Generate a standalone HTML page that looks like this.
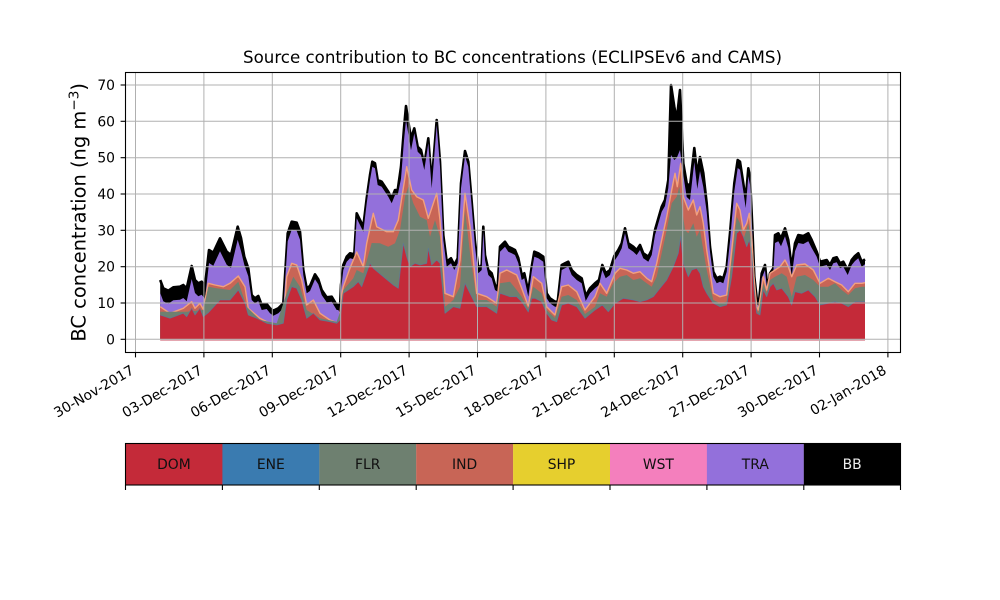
<!DOCTYPE html>
<html><head><meta charset="utf-8"><style>
html,body{margin:0;padding:0;background:#fff;}
svg{display:block;font-family:"DejaVu Sans","Liberation Sans",sans-serif;}
</style></head><body>
<svg width="1000" height="600" viewBox="0 0 1000 600" xmlns="http://www.w3.org/2000/svg">
<rect width="1000" height="600" fill="#fff"/>
<text x="512.5" y="63" font-size="16.67" text-anchor="middle" fill="#000">Source contribution to BC concentrations (ECLIPSEv6 and CAMS)</text>

<!-- BB (total) -->
<polygon fill="#000" points="160.2,339.3 160.2,280 163.3,288.3 168.3,290.7 173.3,287.3 180,286.7 183.3,285 186.7,288.3 191.7,266 195,280 198.3,283.3 201.7,281.7 205,286 209,250 213.3,252.7 220,238.3 226.7,251.7 231,255 237.7,226.7 241,238 244.3,256.7 248.3,268.3 251.7,295 255,298.3 258.3,296 261.7,305 266.7,304 270,308.3 273.3,310.7 278.3,308.3 283.3,303.3 287.7,233.3 291.7,221.7 296.7,222.7 300,231.7 303.3,270 306.7,288.3 310,286 315,274.3 318.3,279.3 321.7,290 326.7,297.3 331.7,296.7 336.7,305 338.3,305 340,308 341,285 343.3,265 346.7,256.7 350,253.3 354.3,254.3 356.7,213.3 360,220 363.3,226.7 366.7,198.3 370,175 372.3,161.7 375,163.3 377.7,180 381.7,181.7 385,186.7 388.3,191.7 391.7,198.3 395,190 397.7,190 401,166.7 404,128.3 406,106 408.3,121.7 411,138.3 414.3,128.3 417.7,146.7 421,150 424.3,165 428.3,138.3 431.7,183.3 436.7,120 440,161.7 443.3,235 446.7,261.7 451,258.3 454.3,265 457.7,258.3 461,183.3 465,151 468.3,161.7 471.7,201.7 475,241.7 478.3,268.3 481.7,265 483.3,226.7 485,255 488.3,270 491.7,273.3 495,285 497.7,286.7 500,246.7 505,241.7 508.3,246.7 511.7,248.3 515,250 518.3,258 521.7,275 524.3,273.3 528.3,291.7 531.7,266.7 534.3,251.7 538.3,253.3 543.3,256.7 546.7,293.3 550,298.3 555,301.7 557.7,301.7 561.7,265 565,263.3 568.3,261.7 571.7,270 576.7,275 581.7,278.3 585.7,296 590,288.3 595,283.3 599,280 602.3,265 605.7,273.3 610,270 614.3,256 618.3,250 621.7,243.3 625,228.3 628.3,243.3 633.3,246.7 636.7,250 640,245 643.3,253.3 648.3,256.7 651.7,250 655,230 661.7,206.7 665,200 668.3,180 671,85 674.3,106.7 676.7,120 680,90 683.3,163.3 686.7,183.3 690,186.7 694.3,148 697.3,175 700,157 703.3,173 706.7,203.3 710,246.7 713.3,271.7 716.7,278.3 720,276.7 723.3,278.3 726.7,266.7 730,233.3 734.3,183.3 737.7,160 740,161.7 743.3,183.3 745.7,200 748.3,168.3 750,176.7 752.3,226.7 754.3,276.7 756.7,298.3 759,301.7 761.7,273.3 765,265 767.7,290 770,273.3 773.3,268.3 775,235 778.3,233.3 781,238.3 785,228.3 788.3,240 791.7,268.3 795,243.3 798.3,235 803.3,236 808.3,233.3 811.7,240 816.7,251.7 820,261.7 826.7,260 830,265 833.3,258.3 836.7,257.3 840,263.3 843.3,261.7 847.7,270 851.7,260 855,256 858.3,253.3 861.7,261.7 865,259.3 865,339.3"/>
<polyline fill="none" stroke="#000" stroke-width="2.6" stroke-linejoin="round" points="160.2,280 163.3,288.3 168.3,290.7 173.3,287.3 180,286.7 183.3,285 186.7,288.3 191.7,266 195,280 198.3,283.3 201.7,281.7 205,286 209,250 213.3,252.7 220,238.3 226.7,251.7 231,255 237.7,226.7 241,238 244.3,256.7 248.3,268.3 251.7,295 255,298.3 258.3,296 261.7,305 266.7,304 270,308.3 273.3,310.7 278.3,308.3 283.3,303.3 287.7,233.3 291.7,221.7 296.7,222.7 300,231.7 303.3,270 306.7,288.3 310,286 315,274.3 318.3,279.3 321.7,290 326.7,297.3 331.7,296.7 336.7,305 338.3,305 340,308 341,285 343.3,265 346.7,256.7 350,253.3 354.3,254.3 356.7,213.3 360,220 363.3,226.7 366.7,198.3 370,175 372.3,161.7 375,163.3 377.7,180 381.7,181.7 385,186.7 388.3,191.7 391.7,198.3 395,190 397.7,190 401,166.7 404,128.3 406,106 408.3,121.7 411,138.3 414.3,128.3 417.7,146.7 421,150 424.3,165 428.3,138.3 431.7,183.3 436.7,120 440,161.7 443.3,235 446.7,261.7 451,258.3 454.3,265 457.7,258.3 461,183.3 465,151 468.3,161.7 471.7,201.7 475,241.7 478.3,268.3 481.7,265 483.3,226.7 485,255 488.3,270 491.7,273.3 495,285 497.7,286.7 500,246.7 505,241.7 508.3,246.7 511.7,248.3 515,250 518.3,258 521.7,275 524.3,273.3 528.3,291.7 531.7,266.7 534.3,251.7 538.3,253.3 543.3,256.7 546.7,293.3 550,298.3 555,301.7 557.7,301.7 561.7,265 565,263.3 568.3,261.7 571.7,270 576.7,275 581.7,278.3 585.7,296 590,288.3 595,283.3 599,280 602.3,265 605.7,273.3 610,270 614.3,256 618.3,250 621.7,243.3 625,228.3 628.3,243.3 633.3,246.7 636.7,250 640,245 643.3,253.3 648.3,256.7 651.7,250 655,230 661.7,206.7 665,200 668.3,180 671,85 674.3,106.7 676.7,120 680,90 683.3,163.3 686.7,183.3 690,186.7 694.3,148 697.3,175 700,157 703.3,173 706.7,203.3 710,246.7 713.3,271.7 716.7,278.3 720,276.7 723.3,278.3 726.7,266.7 730,233.3 734.3,183.3 737.7,160 740,161.7 743.3,183.3 745.7,200 748.3,168.3 750,176.7 752.3,226.7 754.3,276.7 756.7,298.3 759,301.7 761.7,273.3 765,265 767.7,290 770,273.3 773.3,268.3 775,235 778.3,233.3 781,238.3 785,228.3 788.3,240 791.7,268.3 795,243.3 798.3,235 803.3,236 808.3,233.3 811.7,240 816.7,251.7 820,261.7 826.7,260 830,265 833.3,258.3 836.7,257.3 840,263.3 843.3,261.7 847.7,270 851.7,260 855,256 858.3,253.3 861.7,261.7 865,259.3"/>

<!-- TRA -->
<polygon fill="#9370db" points="160.2,339.3 160.2,293 163.3,301.3 168.3,303.7 173.3,300.3 180,299.7 183.3,298 186.7,301.3 191.7,279 195,293 198.3,296.3 201.7,294.7 205,299 209,263 213.3,265.7 220,251.3 226.7,264.7 231,268 237.7,239.7 241,251 244.3,264.7 248.3,276.3 251.7,300 255,303.3 258.3,301 261.7,310 266.7,309 270,313.3 273.3,315.7 278.3,313.3 283.3,308.3 287.7,241.3 291.7,229.7 296.7,230.7 300,239.7 303.3,275 306.7,293.3 310,291 315,279.3 318.3,284.3 321.7,295 326.7,302.3 331.7,301.7 336.7,310 338.3,310 340,313 341,290 343.3,270 346.7,261.7 350,258.3 354.3,259.3 356.7,218.3 360,225 363.3,231.7 366.7,203.3 370,180 372.3,166.7 375,168.3 377.7,185 381.7,186.7 385,191.7 388.3,196.7 391.7,203.3 395,195 397.7,195 401,178.7 404,140.3 406,120 408.3,133.7 411,150.3 414.3,133.3 417.7,151.7 421,155 424.3,170 428.3,143.3 431.7,188.3 436.7,125 440,166.7 443.3,240 446.7,266.7 451,263.3 454.3,270 457.7,263.3 461,188.3 465,156 468.3,166.7 471.7,206.7 475,246.7 478.3,273.3 481.7,270 483.3,231.7 485,260 488.3,275 491.7,278.3 495,290 497.7,291.7 500,251.7 505,246.7 508.3,251.7 511.7,253.3 515,255 518.3,263 521.7,280 524.3,278.3 528.3,296.7 531.7,271.7 534.3,256.7 538.3,258.3 543.3,261.7 546.7,298.3 550,303.3 555,306.7 557.7,306.7 561.7,270 565,268.3 568.3,266.7 571.7,275 576.7,280 581.7,283.3 585.7,301 590,293.3 595,288.3 599,285 602.3,270 605.7,278.3 610,275 614.3,261 618.3,255 621.7,248.3 625,233.3 628.3,248.3 633.3,251.7 636.7,255 640,250 643.3,258.3 648.3,261.7 651.7,255 655,235 661.7,211.7 665,206 668.3,188 671,155 674.3,160 676.7,158 680,150 683.3,175 686.7,197 690,200 694.3,162 697.3,189 700,171 703.3,187 706.7,212 710,251.7 713.3,276.7 716.7,283.3 720,281.7 723.3,283.3 726.7,271.7 730,241.3 734.3,191.3 737.7,168 740,169.7 743.3,191.3 745.7,208 748.3,176.3 750,184.7 752.3,231.7 754.3,281.7 756.7,303.3 759,306.7 761.7,278.3 765,270 767.7,295 770,278.3 773.3,273.3 775,243 778.3,241.3 781,246.3 785,236.3 788.3,248 791.7,276.3 795,251.3 798.3,243 803.3,244 808.3,241.3 811.7,248 816.7,256.7 820,266.7 826.7,265 830,270 833.3,263.3 836.7,262.3 840,268.3 843.3,266.7 847.7,275 851.7,265 855,261 858.3,258.3 861.7,266.7 865,264.3 865,339.3"/>

<!-- IND+SHP+WST (top = O) -->
<polygon fill="#c86556" points="160.2,339.3 160.2,306.7 170,313.3 183.3,308.3 191.7,301.7 195,308.3 200,303.3 203.3,309.3 208.3,283.3 215,285 223.3,286.7 230,283.3 238.3,276 245,286.7 248.3,308.3 260,318.3 266.7,321.7 276.7,325 283.3,323.3 286.7,276.7 291.7,263.3 296.7,265 301.7,280 306.7,305 313.3,300 320,313.3 330,320 338.3,323.3 340,314 341.5,295 343.3,286.7 350,268 356.7,252 363.3,266.7 366.7,243.3 373.3,213.3 376.7,226.7 386.7,231.7 393.3,231.7 398.3,220 406.7,166.7 411.7,190 416.7,196.7 423.3,200 428.3,218.3 436.7,193.3 440,220 445,293.3 453.3,296.7 460,260 465,193.3 470,226.7 476.7,293.3 486.7,296.7 496.7,303.3 500,273.3 506.7,270 516.7,275 521.7,288.3 528.3,306 533.3,276.7 541.7,283.3 546.7,306.7 555,315 561.7,286.7 568.3,285 576.7,291.7 585,310 595,296.7 600,283.3 606.7,293.3 615,273.3 620,268.3 626.7,270 633.3,273.3 640,271.7 646.7,278.3 651.7,281.7 656.7,263.3 661.7,240 666.7,216.7 671.7,190 675,173.3 677.3,186.7 680.7,163.3 683.3,196.7 688.3,210 693.3,200 696.7,215 700,206.7 703.3,223.3 706.7,250 713.3,293.3 720,296.7 726.7,295 731.7,250 736.7,203.3 740,210 743.3,230 746.7,223.3 749.3,213.3 751.7,236.7 754,276.7 756.7,306.7 758.3,310 763.3,276.7 766.7,290 770,273.3 775,270 780,266.7 785,260 788.3,266.7 791.7,276.7 796.7,265 805,264 813.3,270 820,283.3 828.3,278.3 835,281.7 841.7,285 848.3,291.7 855,283.3 861.7,283.3 865,282.7 865,339.3"/>
<polyline fill="none" stroke="#f2a07e" stroke-width="1.4" stroke-linejoin="round" points="160.2,306.7 170,313.3 183.3,308.3 191.7,301.7 195,308.3 200,303.3 203.3,309.3 208.3,283.3 215,285 223.3,286.7 230,283.3 238.3,276 245,286.7 248.3,308.3 260,318.3 266.7,321.7 276.7,325 283.3,323.3 286.7,276.7 291.7,263.3 296.7,265 301.7,280 306.7,305 313.3,300 320,313.3 330,320 338.3,323.3 340,314 341.5,295 343.3,286.7 350,268 356.7,252 363.3,266.7 366.7,243.3 373.3,213.3 376.7,226.7 386.7,231.7 393.3,231.7 398.3,220 406.7,166.7 411.7,190 416.7,196.7 423.3,200 428.3,218.3 436.7,193.3 440,220 445,293.3 453.3,296.7 460,260 465,193.3 470,226.7 476.7,293.3 486.7,296.7 496.7,303.3 500,273.3 506.7,270 516.7,275 521.7,288.3 528.3,306 533.3,276.7 541.7,283.3 546.7,306.7 555,315 561.7,286.7 568.3,285 576.7,291.7 585,310 595,296.7 600,283.3 606.7,293.3 615,273.3 620,268.3 626.7,270 633.3,273.3 640,271.7 646.7,278.3 651.7,281.7 656.7,263.3 661.7,240 666.7,216.7 671.7,190 675,173.3 677.3,186.7 680.7,163.3 683.3,196.7 688.3,210 693.3,200 696.7,215 700,206.7 703.3,223.3 706.7,250 713.3,293.3 720,296.7 726.7,295 731.7,250 736.7,203.3 740,210 743.3,230 746.7,223.3 749.3,213.3 751.7,236.7 754,276.7 756.7,306.7 758.3,310 763.3,276.7 766.7,290 770,273.3 775,270 780,266.7 785,260 788.3,266.7 791.7,276.7 796.7,265 805,264 813.3,270 820,283.3 828.3,278.3 835,281.7 841.7,285 848.3,291.7 855,283.3 861.7,283.3 865,282.7"/>

<!-- FLR -->
<polygon fill="#6e8070" points="160.2,339.3 160.2,311.7 186.7,311.7 203.3,310 208.3,286.7 216.7,288.3 230,290 238.3,281.7 246.7,306.7 260,320 276.7,323.3 286.7,293.3 293.3,276.7 300,286.7 306.7,310 320,318.3 336.7,321.7 340,312 343.3,290 353.3,278.3 356.7,270 363.3,273.3 371.7,243 380,243.3 388.3,246.7 395,243.3 400,230 405,196.7 408.3,186.7 413.3,203.3 420,216.7 426.7,220 430,236.7 435,220 440,236.7 445,306.7 453.3,300 460,286.7 465,210 470,253.3 476.7,300 486.7,300 496.7,306.7 500,283.3 510,281.7 516.7,290 521.7,296.7 528.3,309 533.3,286.7 541.7,293.3 546.7,310 555,318 561.7,296.7 568.3,295 576.7,300 585,314 595,306.7 600,293.3 606.7,296.7 613.3,283.3 620,276.7 626.7,275 633.3,280 640,278.3 646.7,283.3 651.7,286.7 656.7,276.7 661.7,253.3 666.7,230 671.7,203.3 676.7,196.7 679.3,186.7 682.7,213.3 685,230 688.3,233.3 693.3,223.3 696.7,236.7 700,230 703.3,250 706.7,270 713.3,300 720,303.3 726.7,301.7 731.7,260 736.7,216.7 740,223.3 743.3,240 748.3,223.3 751.7,246.7 754,283.3 756.7,310 758.3,313.3 763.3,283.3 766.7,293.3 770,280 775,276.7 781.7,273.3 786.7,276.7 791.7,296.7 796.7,276.7 805,275 813.3,280 820,286.7 828.3,286.7 835,283.3 841.7,290 848.3,295 855,288.3 861.7,286.7 865,286.7 865,339.3"/>

<!-- DOM -->
<polygon fill="#c42a39" points="160.2,339.3 160.2,315 170,318.3 183.3,313.3 186.7,316.7 191.7,308.3 195,315 200,308.3 203.3,316.7 208.3,312.7 220,300 230,300 238.3,290 245,303.3 248.3,315 256.7,318.3 266.7,323.3 276.7,325 283.3,323.3 286.7,300 291.7,286.7 296.7,288.3 301.7,300 306.7,318.3 313.3,313.3 320,320 330,321.7 336.7,323.3 340,320 343.3,293.3 353.3,286.7 358.3,281.7 361.7,286.7 370,263.3 373.3,268.3 383.3,276.7 393.3,285 398.3,288.3 403.3,243.3 406.7,256.7 410,266.7 415,263.3 420,265 426.7,263.3 428.3,248.3 431.7,265 436.7,260 440,263.3 445,313.3 453.3,306.7 460,308.3 465,283.3 470,293.3 476.7,306.7 486.7,306.7 496.7,313.3 500,293.3 510,296.7 516.7,296.7 521.7,301.7 528.3,312 531.7,298.3 535,298.3 541.7,301.7 546.7,313.3 551.7,320 556.7,321.7 561.7,305 568.3,303.3 576.7,306.7 585,318.3 595,310 602.3,305 608.3,311.7 615,303.3 623.3,298.3 633.3,300 640,301.7 646.7,300 653.3,296.7 660,288.3 666.7,280 673.3,266.7 678.3,253.3 680.7,236.7 683.3,263.3 688.3,276.7 691.7,270 696.7,268.3 700,273.3 703.3,286.7 706.7,293.3 713.3,303.3 720,306.7 726.7,305 731.7,276.7 736.7,233.3 740,230 743.3,236.7 746.7,246.7 749.3,240 751.7,253.3 754,290 756.7,313.3 760,315 763.3,290 766.7,296.7 770,286.7 773.3,283.3 776.7,290 781.7,288.3 788.3,296.7 791.7,305 795,291.7 801.7,293.3 808.3,290 815,296.7 820,305 828.3,303.3 835,301.7 841.7,303.3 848.3,306.7 855,301.7 861.7,301.7 865,301.7 865,339.3"/>
<polyline fill="none" stroke="#4f7fa8" stroke-width="0.8" stroke-opacity="0.7" stroke-linejoin="round" points="160.2,315 170,318.3 183.3,313.3 186.7,316.7 191.7,308.3 195,315 200,308.3 203.3,316.7 208.3,312.7 220,300 230,300 238.3,290 245,303.3 248.3,315 256.7,318.3 266.7,323.3 276.7,325 283.3,323.3 286.7,300 291.7,286.7 296.7,288.3 301.7,300 306.7,318.3 313.3,313.3 320,320 330,321.7 336.7,323.3 340,320 343.3,293.3 353.3,286.7 358.3,281.7 361.7,286.7 370,263.3 373.3,268.3 383.3,276.7 393.3,285 398.3,288.3 403.3,243.3 406.7,256.7 410,266.7 415,263.3 420,265 426.7,263.3 428.3,248.3 431.7,265 436.7,260 440,263.3 445,313.3 453.3,306.7 460,308.3 465,283.3 470,293.3 476.7,306.7 486.7,306.7 496.7,313.3 500,293.3 510,296.7 516.7,296.7 521.7,301.7 528.3,312 531.7,298.3 535,298.3 541.7,301.7 546.7,313.3 551.7,320 556.7,321.7 561.7,305 568.3,303.3 576.7,306.7 585,318.3 595,310 602.3,305 608.3,311.7 615,303.3 623.3,298.3 633.3,300 640,301.7 646.7,300 653.3,296.7 660,288.3 666.7,280 673.3,266.7 678.3,253.3 680.7,236.7 683.3,263.3 688.3,276.7 691.7,270 696.7,268.3 700,273.3 703.3,286.7 706.7,293.3 713.3,303.3 720,306.7 726.7,305 731.7,276.7 736.7,233.3 740,230 743.3,236.7 746.7,246.7 749.3,240 751.7,253.3 754,290 756.7,313.3 760,315 763.3,290 766.7,296.7 770,286.7 773.3,283.3 776.7,290 781.7,288.3 788.3,296.7 791.7,305 795,291.7 801.7,293.3 808.3,290 815,296.7 820,305 828.3,303.3 835,301.7 841.7,303.3 848.3,306.7 855,301.7 861.7,301.7 865,301.7"/>
<line x1="160.2" y1="340" x2="865" y2="340" stroke="#e09aa4" stroke-width="1.8"/>

<!-- grid -->
<g stroke="#b0b0b0" stroke-width="1">
<line x1="135.5" y1="72.5" x2="135.5" y2="352.5"/>
<line x1="203.9" y1="72.5" x2="203.9" y2="352.5"/>
<line x1="272.3" y1="72.5" x2="272.3" y2="352.5"/>
<line x1="340.7" y1="72.5" x2="340.7" y2="352.5"/>
<line x1="409.1" y1="72.5" x2="409.1" y2="352.5"/>
<line x1="477.5" y1="72.5" x2="477.5" y2="352.5"/>
<line x1="545.9" y1="72.5" x2="545.9" y2="352.5"/>
<line x1="614.3" y1="72.5" x2="614.3" y2="352.5"/>
<line x1="682.7" y1="72.5" x2="682.7" y2="352.5"/>
<line x1="751.1" y1="72.5" x2="751.1" y2="352.5"/>
<line x1="819.5" y1="72.5" x2="819.5" y2="352.5"/>
<line x1="887.9" y1="72.5" x2="887.9" y2="352.5"/>
<line x1="125.5" y1="339.3" x2="900.5" y2="339.3"/>
<line x1="125.5" y1="303" x2="900.5" y2="303"/>
<line x1="125.5" y1="266.7" x2="900.5" y2="266.7"/>
<line x1="125.5" y1="230.3" x2="900.5" y2="230.3"/>
<line x1="125.5" y1="194" x2="900.5" y2="194"/>
<line x1="125.5" y1="157.7" x2="900.5" y2="157.7"/>
<line x1="125.5" y1="121.3" x2="900.5" y2="121.3"/>
<line x1="125.5" y1="85" x2="900.5" y2="85"/>
</g>

<!-- axes frame -->
<rect x="125.5" y="72.5" width="775" height="280" fill="none" stroke="#000" stroke-width="1.1"/>

<!-- y ticks -->
<g stroke="#000" stroke-width="1.1">
<line x1="120.6" y1="339.3" x2="125.5" y2="339.3"/>
<line x1="120.6" y1="303" x2="125.5" y2="303"/>
<line x1="120.6" y1="266.7" x2="125.5" y2="266.7"/>
<line x1="120.6" y1="230.3" x2="125.5" y2="230.3"/>
<line x1="120.6" y1="194" x2="125.5" y2="194"/>
<line x1="120.6" y1="157.7" x2="125.5" y2="157.7"/>
<line x1="120.6" y1="121.3" x2="125.5" y2="121.3"/>
<line x1="120.6" y1="85" x2="125.5" y2="85"/>
</g>
<g font-size="13.89" text-anchor="end" fill="#000">
<text x="115" y="344.3">0</text>
<text x="115" y="308">10</text>
<text x="115" y="271.7">20</text>
<text x="115" y="235.3">30</text>
<text x="115" y="199">40</text>
<text x="115" y="162.7">50</text>
<text x="115" y="126.3">60</text>
<text x="115" y="90">70</text>
</g>

<!-- x ticks -->
<g stroke="#000" stroke-width="1.1">
<line x1="135.5" y1="352.5" x2="135.5" y2="357.4"/>
<line x1="203.9" y1="352.5" x2="203.9" y2="357.4"/>
<line x1="272.3" y1="352.5" x2="272.3" y2="357.4"/>
<line x1="340.7" y1="352.5" x2="340.7" y2="357.4"/>
<line x1="409.1" y1="352.5" x2="409.1" y2="357.4"/>
<line x1="477.5" y1="352.5" x2="477.5" y2="357.4"/>
<line x1="545.9" y1="352.5" x2="545.9" y2="357.4"/>
<line x1="614.3" y1="352.5" x2="614.3" y2="357.4"/>
<line x1="682.7" y1="352.5" x2="682.7" y2="357.4"/>
<line x1="751.1" y1="352.5" x2="751.1" y2="357.4"/>
<line x1="819.5" y1="352.5" x2="819.5" y2="357.4"/>
<line x1="887.9" y1="352.5" x2="887.9" y2="357.4"/>
</g>
<g font-size="13.89" text-anchor="end" fill="#000">
<text transform="translate(135,373) rotate(-30)">30-Nov-2017</text>
<text transform="translate(203.4,373) rotate(-30)">03-Dec-2017</text>
<text transform="translate(271.8,373) rotate(-30)">06-Dec-2017</text>
<text transform="translate(340.2,373) rotate(-30)">09-Dec-2017</text>
<text transform="translate(408.6,373) rotate(-30)">12-Dec-2017</text>
<text transform="translate(477,373) rotate(-30)">15-Dec-2017</text>
<text transform="translate(545.4,373) rotate(-30)">18-Dec-2017</text>
<text transform="translate(613.8,373) rotate(-30)">21-Dec-2017</text>
<text transform="translate(682.2,373) rotate(-30)">24-Dec-2017</text>
<text transform="translate(750.6,373) rotate(-30)">27-Dec-2017</text>
<text transform="translate(819,373) rotate(-30)">30-Dec-2017</text>
<text transform="translate(887.4,373) rotate(-30)">02-Jan-2018</text>
</g>

<!-- y label -->
<text transform="translate(85.5,212.3) rotate(-90)" font-size="19.44" text-anchor="middle" fill="#000">BC concentration (ng m<tspan font-size="13.6" dy="-7">−3</tspan><tspan dy="7">)</tspan></text>

<!-- legend colorbar -->
<rect x="125.5" y="443.5" width="97" height="41.5" fill="#c42a39"/>
<rect x="222.4" y="443.5" width="97" height="41.5" fill="#3a7bb0"/>
<rect x="319.3" y="443.5" width="97" height="41.5" fill="#6e8070"/>
<rect x="416.2" y="443.5" width="97" height="41.5" fill="#c86556"/>
<rect x="513.1" y="443.5" width="97" height="41.5" fill="#e6cf2e"/>
<rect x="610" y="443.5" width="97" height="41.5" fill="#f47fbd"/>
<rect x="706.9" y="443.5" width="97" height="41.5" fill="#9370db"/>
<rect x="803.8" y="443.5" width="96.7" height="41.5" fill="#000"/>
<rect x="125.5" y="443.5" width="775" height="41.5" fill="none" stroke="#000" stroke-width="1.1"/>
<g stroke="#000" stroke-width="1.1">
<line x1="125.5" y1="485" x2="125.5" y2="490"/>
<line x1="222.4" y1="485" x2="222.4" y2="490"/>
<line x1="319.3" y1="485" x2="319.3" y2="490"/>
<line x1="416.2" y1="485" x2="416.2" y2="490"/>
<line x1="513.1" y1="485" x2="513.1" y2="490"/>
<line x1="610" y1="485" x2="610" y2="490"/>
<line x1="706.9" y1="485" x2="706.9" y2="490"/>
<line x1="803.8" y1="485" x2="803.8" y2="490"/>
<line x1="900.5" y1="485" x2="900.5" y2="490"/>
</g>
<g font-size="13.89" text-anchor="middle" fill="#111">
<text x="173.9" y="469">DOM</text>
<text x="270.8" y="469">ENE</text>
<text x="367.7" y="469">FLR</text>
<text x="464.6" y="469">IND</text>
<text x="561.5" y="469">SHP</text>
<text x="658.4" y="469">WST</text>
<text x="755.3" y="469">TRA</text>
<text x="852.1" y="469" fill="#eee">BB</text>
</g>
</svg>
</body></html>
